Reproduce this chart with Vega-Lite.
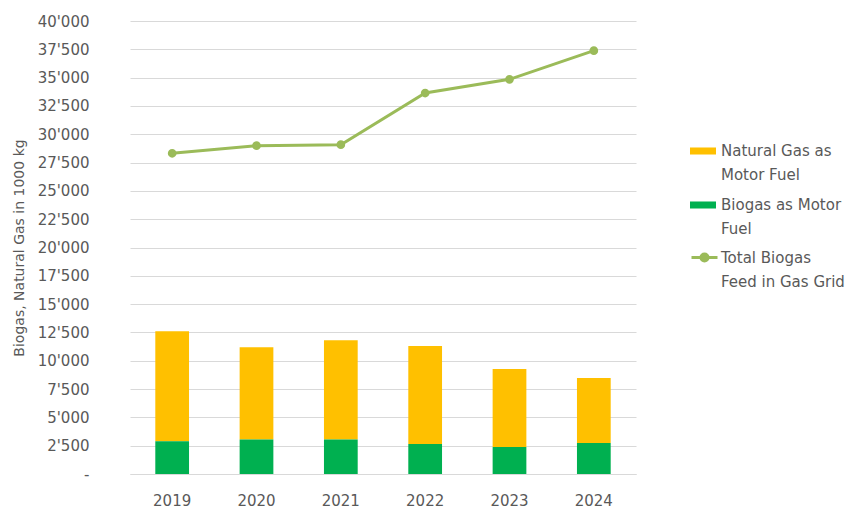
{
  "$schema": "https://vega.github.io/schema/vega-lite/v6.json",
  "width": 506,
  "height": 453,
  "padding": {"left": 12, "top": 14, "right": 5, "bottom": 5},
  "background": "white",
  "config": {
    "view": {"stroke": "transparent"},
    "font": "DejaVu Sans",
    "axis": {"labelColor": "#595959", "labelFontSize": 15, "titleColor": "#595959", "titleFontWeight": "normal", "ticks": false},
    "legend": {"labelColor": "#595959", "labelFontSize": 15, "padding": 0},
    "style": {"guide-label": {"lineHeight": 24}}
  },
  "data": {
    "values": [
      {"year": "2019", "series": "Natural Gas as Motor Fuel", "value": 9700},
      {"year": "2020", "series": "Natural Gas as Motor Fuel", "value": 8150},
      {"year": "2021", "series": "Natural Gas as Motor Fuel", "value": 8750},
      {"year": "2022", "series": "Natural Gas as Motor Fuel", "value": 8650},
      {"year": "2023", "series": "Natural Gas as Motor Fuel", "value": 6890},
      {"year": "2024", "series": "Natural Gas as Motor Fuel", "value": 5740},
      {"year": "2019", "series": "Biogas as Motor Fuel", "value": 2900},
      {"year": "2020", "series": "Biogas as Motor Fuel", "value": 3050},
      {"year": "2021", "series": "Biogas as Motor Fuel", "value": 3050},
      {"year": "2022", "series": "Biogas as Motor Fuel", "value": 2650},
      {"year": "2023", "series": "Biogas as Motor Fuel", "value": 2380},
      {"year": "2024", "series": "Biogas as Motor Fuel", "value": 2740},
      {"year": "2019", "series": "Total Biogas Feed in Gas Grid", "value": 28320},
      {"year": "2020", "series": "Total Biogas Feed in Gas Grid", "value": 28990},
      {"year": "2021", "series": "Total Biogas Feed in Gas Grid", "value": 29080},
      {"year": "2022", "series": "Total Biogas Feed in Gas Grid", "value": 33640},
      {"year": "2023", "series": "Total Biogas Feed in Gas Grid", "value": 34850},
      {"year": "2024", "series": "Total Biogas Feed in Gas Grid", "value": 37380}
    ]
  },
  "encoding": {
    "x": {
      "field": "year",
      "type": "ordinal",
      "scale": {"paddingInner": 0.6, "paddingOuter": 0.3},
      "axis": {"title": null, "labelAngle": 0, "labelPadding": 19, "domainColor": "#d9d9d9", "grid": false}
    }
  },
  "layer": [
    {
      "transform": [{"filter": "datum.series != 'Total Biogas Feed in Gas Grid'"}],
      "mark": {"type": "bar"},
      "encoding": {
        "y": {
          "field": "value",
          "type": "quantitative",
          "stack": "zero",
          "scale": {"domain": [0, 40000]},
          "axis": {
            "title": "Biogas, Natural Gas in 1000 kg",
            "titleFontSize": 14,
            "titlePadding": 11,
            "values": [0, 2500, 5000, 7500, 10000, 12500, 15000, 17500, 20000, 22500, 25000, 27500, 30000, 32500, 35000, 37500, 40000],
            "labelOverlap": false,
            "labelExpr": "datum.value == 0 ? '-' : replace(format(datum.value, ','), ',', \"'\")",
            "labelPadding": 41,
            "domain": false,
            "gridColor": "#d9d9d9"
          }
        },
        "fill": {
          "field": "series",
          "type": "nominal",
          "scale": {"domain": ["Natural Gas as Motor Fuel", "Biogas as Motor Fuel"], "range": ["#FFC000", "#00B050"]},
          "legend": {
            "title": null,
            "orient": "none",
            "legendX": 560,
            "legendY": 117,
            "symbolType": "M-1,-0.27H1V0.27H-1Z",
            "symbolSize": 676,
            "symbolStrokeWidth": 0,
            "labelOffset": 5,
            "rowPadding": 9,
            "labelExpr": "datum.label == 'Natural Gas as Motor Fuel' ? ['Natural Gas as', 'Motor Fuel'] : ['Biogas as Motor', 'Fuel']"
          }
        },
        "order": {"field": "series", "sort": "ascending"}
      }
    },
    {
      "transform": [{"filter": "datum.series == 'Total Biogas Feed in Gas Grid'"}],
      "mark": {"type": "line", "strokeWidth": 3, "point": {"filled": true, "size": 45, "color": "#9BBB59"}},
      "encoding": {
        "y": {
          "field": "value",
          "type": "quantitative",
          "axis": {
            "title": "Biogas, Natural Gas in 1000 kg",
            "titleFontSize": 14,
            "titlePadding": 11,
            "values": [0, 2500, 5000, 7500, 10000, 12500, 15000, 17500, 20000, 22500, 25000, 27500, 30000, 32500, 35000, 37500, 40000],
            "labelOverlap": false,
            "labelExpr": "datum.value == 0 ? '-' : replace(format(datum.value, ','), ',', \"'\")",
            "labelPadding": 41,
            "domain": false,
            "gridColor": "#d9d9d9"
          }
        },
        "stroke": {
          "field": "series",
          "type": "nominal",
          "scale": {"range": ["#9BBB59"]},
          "legend": {
            "title": null,
            "orient": "none",
            "legendX": 560,
            "legendY": 222,
            "symbolType": "M-1,0H1M-0.27,0A0.27,0.27 0 1,0 0.27,0A0.27,0.27 0 1,0 -0.27,0Z",
            "symbolSize": 676,
            "symbolStrokeWidth": 3,
            "symbolFillColor": "#9BBB59",
            "labelOffset": 2,
            "labelExpr": "['Total Biogas', 'Feed in Gas Grid']"
          }
        }
      }
    }
  ]
}
